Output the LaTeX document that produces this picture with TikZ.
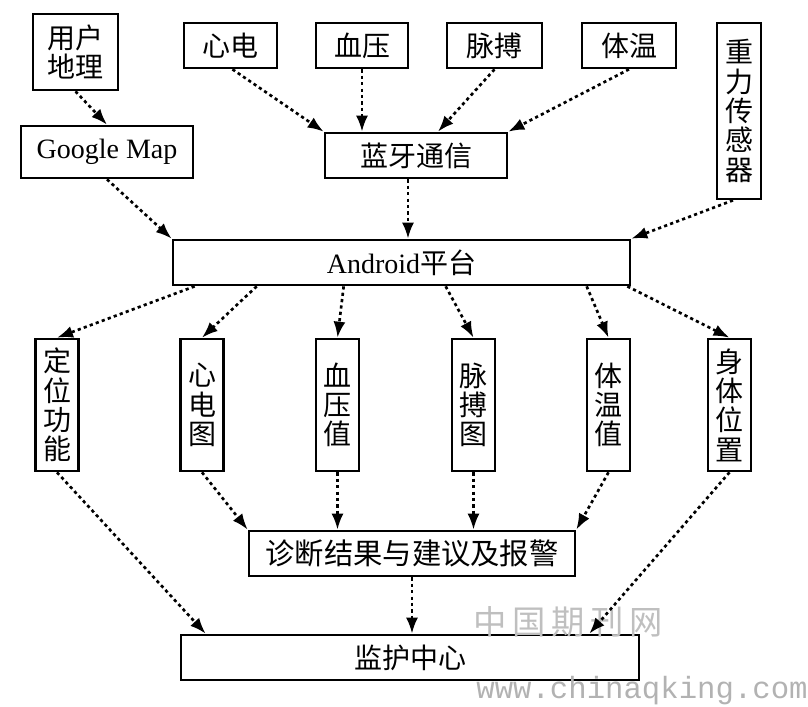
\documentclass[tikz,border=0pt]{standalone}
\usepackage{fontspec}
\setmainfont{Liberation Serif}
\newfontfamily\cjk{Noto Sans CJK SC}
\newfontfamily\wmfont{Liberation Mono}
\usetikzlibrary{arrows.meta,calc}

\tikzset{
  box/.style={draw, line width=2pt, inner sep=0pt, align=center,
    font=\fontsize{21}{22}\selectfont\cjk},
  sz/.style 2 args={minimum width=#1*0.75pt, minimum height=#2*0.75pt},
  vbox/.style={box, sz={43}{132}},
  flow/.style={line width=2pt, dash pattern=on 2.4pt off 2.4pt,
    -{Latex[length=12pt,width=9pt]}},
}

\begin{document}
\begin{tikzpicture}[x=0.75pt, y=-0.75pt]
  \useasboundingbox (0,0) rectangle (808,707);

  % Capteurs et sources
  \node[box, sz={85}{76}] (geo) at (75.5,52) {用户\\地理};
  \node[box, sz={172}{52}, font=\fontsize{21}{22}\selectfont] (gmap) at (107,152) {Google Map};
  \node[box, sz={93}{45}] (ecg) at (230.5,45.5) {心电};
  \node[box, sz={92}{45}] (bp) at (362,45.5) {血压};
  \node[box, sz={95}{45}] (pulse) at (494.5,45.5) {脉搏};
  \node[box, sz={94}{45}] (temp) at (629,45.5) {体温};
  \node[box, sz={44}{176}] (grav) at (739,111) {重\\力\\传\\感\\器};
  \node[box, sz={182}{45}] (bt) at (416,155.5) {蓝牙通信};

  % Plateforme
  \node[box, sz={457}{45}] (android) at (401.5,262.5) {{\rmfamily Android}平台};

  % Résultats
  \node[vbox] (loc) at (57,405) {定\\位\\功\\能};
  \node[vbox] (ecgimg) at (202,405) {心\\电\\图};
  \node[vbox] (bpv) at (337.5,405) {血\\压\\值};
  \node[vbox] (pulseimg) at (473.5,405) {脉\\搏\\图};
  \node[vbox] (tempv) at (608.5,405) {体\\温\\值};
  \node[vbox] (posture) at (729.5,405) {身\\体\\位\\置};

  \node[box, sz={326}{45}, font=\fontsize{22}{22}\selectfont\cjk] (diag) at (412,553.5) {诊断结果与建议及报警};
  \node[box, sz={458}{45}] (monitor) at (410,657.5) {监护中心};

  % Filigrane
  \node[text=gray!50, font=\fontsize{25}{25}\selectfont\cjk] (wmcn) at (568,622) {中\,国\,期\,刊\,网};
  \node[text=gray!60, font=\fontsize{23}{23}\selectfont\wmfont] (wmurl) at (642,691) {www.chinaqking.com};

  % Liaisons du haut
  \draw[flow] (geo.south) -- (gmap.north);
  \draw[flow] ($(ecg.south)+(2,0)$) -- (bt.north west);
  \draw[flow] (bp.south) -- (bp.south |- bt.north);
  \draw[flow] (pulse.south) -- ($(bt.north)+(22,0)$);
  \draw[flow] (temp.south) -- (bt.north east);
  \draw[flow] ($(bt.south)+(-8,0)$) -- ($(bt.south |- android.north)+(-8,0)$);
  \draw[flow] (gmap.south) -- (android.north west);
  \draw[flow] ($(grav.south)+(-6,0)$) -- (android.north east);

  % Liaisons vers les résultats
  \draw[flow] ($(android.south west)+(23,0)$) -- (loc.north);
  \draw[flow] ($(android.south west)+(85,0)$) -- (ecgimg.north);
  \draw[flow] ($(android.south west)+(172,0)$) -- (bpv.north);
  \draw[flow] ($(android.south west)+(274,0)$) -- (pulseimg.north);
  \draw[flow] ($(android.south west)+(415,0)$) -- (tempv.north);
  \draw[flow] ($(android.south east)+(-4,0)$) -- (posture.north);

  % Liaisons du bas
  \draw[flow] (ecgimg.south) -- (diag.north west);
  \draw[flow] (bpv.south) -- (bpv.south |- diag.north);
  \draw[flow] (pulseimg.south) -- (pulseimg.south |- diag.north);
  \draw[flow] (tempv.south) -- (diag.north east);
  \draw[flow] (loc.south) -- ($(monitor.north west)+(26,0)$);
  \draw[flow] (posture.south) -- ($(monitor.north east)+(-51,0)$);
  \draw[flow] (diag.south) -- (diag.south |- monitor.north);
\end{tikzpicture}
\end{document}
